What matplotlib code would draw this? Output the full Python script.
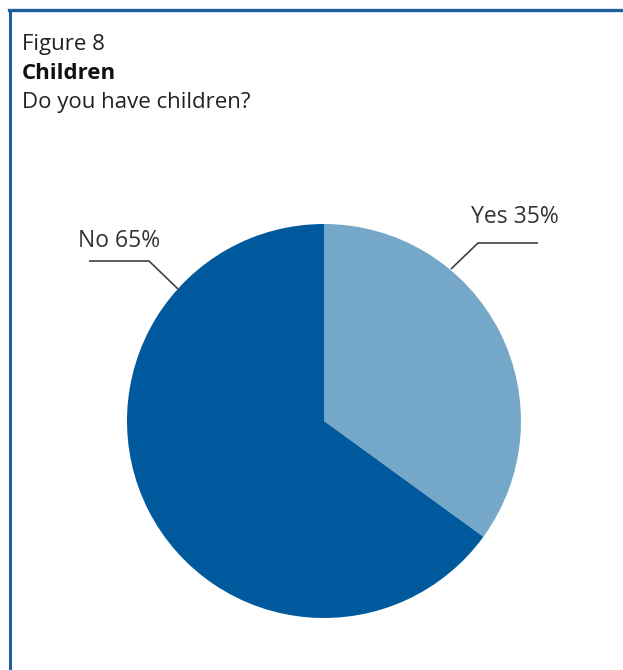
import matplotlib
matplotlib.use("Agg")
import matplotlib.pyplot as plt
from matplotlib.lines import Line2D

plt.rcParams['font.family'] = ['Open Sans', 'DejaVu Sans']

# Survey answers
labels = ['Yes', 'No']
shares = [35, 65]
colors = ['#75a7c9', '#00599c']

fig = plt.figure(figsize=(6.23, 6.70), dpi=100)
W, H = 623, 670

# Panel frame: top and left rules only
fig.add_artist(Line2D([9 / W, 1], [1 - 10 / H, 1 - 10 / H], color='#1e5f9c', lw=2.4))
fig.add_artist(Line2D([9.5 / W, 9.5 / W], [0, 1 - 10 / H], color='#1e5f9c', lw=2.2))

# Heading
fig.text(22 / W, 1 - 50 / H, 'Figure 8', fontsize=16, color='#222222', va='baseline')
fig.text(22 / W, 1 - 79 / H, 'Children', fontsize=16, fontweight='bold', color='#111111', va='baseline')
fig.text(22 / W, 1 - 108 / H, 'Do you have children?', fontsize=16, color='#222222', va='baseline')

# Pie centred at (324, 421) px, radius 197 px
r = 197
ax = fig.add_axes([(324 - r) / W, 1 - (421 + r) / H, 2 * r / W, 2 * r / H])
ax.pie(shares, colors=colors, startangle=90, counterclock=False, radius=1.0,
       wedgeprops=dict(linewidth=0))
ax.set_xlim(-1, 1)
ax.set_ylim(-1, 1)
ax.set_aspect('equal')
ax.axis('off')

def px(x, y):
    return (x - 324) / r, (421 - y) / r

# Leader lines (start, elbow, edge point in px)
leaders = {
    'No': [(89, 261), (149, 261), (178, 289)],
    'Yes': [(538, 243), (478, 243), (451, 269)],
}
label_pos = {'No': (78, 247), 'Yes': (471, 223)}

for lab, share in zip(labels, shares):
    pts = [px(*p) for p in leaders[lab]]
    ax.plot([p[0] for p in pts], [p[1] for p in pts], color='#404040', lw=1.2,
            clip_on=False, solid_capstyle='butt')
    tx, ty = px(*label_pos[lab])
    ax.text(tx, ty, f'{lab} {share}%', fontsize=16.5, color='#333333',
            ha='left', va='baseline')

fig.savefig('out.png', dpi=100)
